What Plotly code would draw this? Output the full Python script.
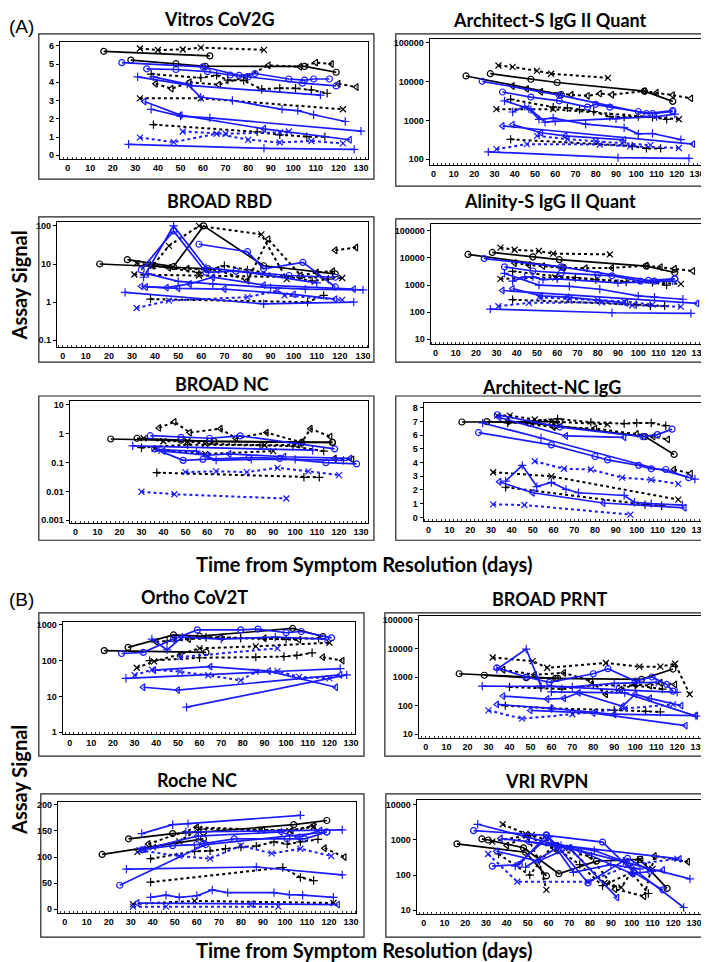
import plotly.graph_objects as go

W, H = 709, 962

# ---------------- data: (colour, symbol, days, values) ----------------
vitros = [
    ("k", "o", [16, 63], [5.70, 5.45]),
    ("k", "x", [32, 40, 51, 59, 87], [5.85, 5.77, 5.80, 5.90, 5.78]),
    ("k", "o", [28, 48, 61, 105, 119], [5.22, 5.02, 4.88, 4.87, 4.55]),
    ("k", "<", [39, 46, 54, 67, 79, 89, 103, 110, 117], [3.92, 3.65, 4.00, 3.87, 4.30, 4.93, 4.85, 5.08, 5.00]),
    ("k", "+", [37, 59, 66, 71, 78, 86, 94, 101, 108, 115], [4.45, 4.25, 4.38, 4.12, 4.10, 3.62, 3.68, 3.67, 3.58, 3.40]),
    ("k", "<", [120, 128], [3.92, 3.74]),
    ("k", "x", [32, 59, 122], [3.12, 3.12, 2.52]),
    ("k", "+", [38, 84, 94, 106, 114], [1.68, 1.28, 1.12, 1.02, 1.02]),
    ("b", "o", [24, 60, 76, 83, 98, 105, 109, 116], [5.08, 4.85, 4.38, 4.48, 4.18, 4.12, 4.18, 4.18]),
    ("b", "o", [35, 48, 62, 72, 80, 104, 119], [4.74, 4.70, 4.58, 4.40, 4.30, 3.95, 3.80]),
    ("b", "+", [31, 55, 112], [4.30, 3.82, 3.30]),
    ("b", "+", [38, 53, 59, 73, 95, 102, 109, 123], [4.30, 3.90, 3.18, 3.00, 2.52, 2.45, 2.22, 1.85]),
    ("b", "+", [37, 50, 63, 130], [2.52, 2.15, 2.05, 1.32]),
    ("b", "<", [34, 50, 87, 125], [2.95, 2.20, 1.45, 0.85]),
    ("b", "x", [51, 70, 94, 98], [1.30, 1.18, 1.25, 1.30]),
    ("b", "x", [32, 47, 66, 80, 94, 108, 122], [0.97, 0.72, 1.18, 0.85, 0.70, 0.78, 0.65]),
    ("b", "+", [27, 87, 127], [0.60, 0.38, 0.32]),
]

architect_s = [
    ("k", "o", [16, 63], [14000, 4600]),
    ("k", "o", [28, 48, 61, 104, 118], [16000, 11500, 9500, 5700, 3100]),
    ("k", "x", [32, 39, 51, 58, 86], [26000, 24000, 19000, 16000, 12500]),
    ("k", "<", [39, 46, 53, 68, 76, 82, 88, 104, 110, 118, 127], [7700, 6500, 5500, 4600, 4300, 4900, 4600, 5700, 5200, 4500, 3700]),
    ("k", "+", [38, 59, 66, 72, 79, 87, 94, 101, 108, 115], [3500, 2200, 2100, 1900, 1700, 1250, 1200, 1250, 1200, 1070]),
    ("k", "x", [31, 59, 121], [1950, 1950, 1070]),
    ("k", "+", [38, 98, 105, 112], [325, 220, 190, 190]),
    ("b", "o", [24, 62, 105, 118], [10200, 4500, 1500, 1800]),
    ("b", "o", [34, 48, 62, 76, 80, 87, 101, 108, 118], [5400, 4000, 3200, 2200, 2600, 2200, 1700, 1500, 1700]),
    ("b", "+", [35, 47, 52, 59, 75, 94, 101, 108, 122], [3200, 2000, 1070, 1150, 800, 650, 450, 460, 320]),
    ("b", "+", [39, 45, 48, 55, 60, 90, 110, 119], [1650, 2300, 1900, 900, 950, 1100, 1250, 1450]),
    ("b", "<", [34, 128], [720, 245]),
    ("b", "<", [39, 53, 65, 94], [780, 480, 400, 315]),
    ("b", "x", [31, 46, 82, 97, 121], [182, 245, 240, 215, 195]),
    ("b", "x", [51, 66, 80, 93, 107], [400, 330, 290, 260, 230]),
    ("b", "+", [27, 91, 126], [155, 110, 105]),
]

broad_rbd = [
    ("k", "o", [16, 63], [10, 7.5]),
    ("k", "o", [28, 48, 61, 87, 118], [13, 8.5, 100, 9, 5.5]),
    ("k", "x", [32, 39, 46, 59, 86, 97], [10.5, 9, 30, 100, 60, 4]),
    ("k", "<", [39, 46, 54, 67, 80, 89, 103, 110, 117], [9, 8, 7.5, 7, 3.7, 45, 5, 6, 6.5]),
    ("k", "<", [118, 127], [23, 27]),
    ("k", "+", [38, 59, 70, 80, 108, 115], [9.5, 6, 9, 7, 3.6, 4]),
    ("k", "x", [31, 59, 121], [5.3, 5, 4.3]),
    ("k", "+", [38, 106, 113], [1.2, 1.0, 1.5]),
    ("b", "o", [34, 48, 62, 75, 98, 118], [7, 74, 6, 6.5, 5, 4.5]),
    ("b", "o", [59, 80, 87, 104, 118], [33, 21, 7.5, 11, 2.5]),
    ("b", "+", [35, 48, 62, 80, 110], [4.5, 100, 8, 6, 3.2]),
    ("b", "<", [34, 45, 55, 65, 87, 126], [2.6, 2.4, 3, 4.5, 2.8, 2.2]),
    ("b", "+", [27, 87, 126], [1.8, 0.9, 1.0]),
    ("b", "x", [32, 46, 80, 93, 96, 121], [0.7, 1.1, 1.35, 2.0, 1.5, 1.15]),
    ("b", "+", [37, 50, 65, 90, 105, 130], [5.5, 3.5, 3, 2.4, 2.2, 2.1]),
    ("b", "<", [36, 50, 70, 100, 118], [2.5, 2.3, 2.2, 1.6, 1.2]),
]

alinity_s = [
    ("k", "o", [16, 63], [13500, 4500]),
    ("k", "o", [28, 48, 61, 104, 118], [16000, 11000, 8700, 5000, 2900]),
    ("k", "x", [32, 39, 51, 58, 86], [24000, 20000, 18000, 14500, 13500]),
    ("k", "<", [39, 46, 53, 63, 74, 87, 104, 111, 118, 127], [6500, 5500, 5000, 4300, 4200, 4300, 5200, 4600, 4000, 3300]),
    ("k", "+", [38, 60, 69, 79, 94, 107, 114], [3200, 2100, 1900, 1600, 1300, 1250, 1000]),
    ("k", "x", [32, 59, 121], [1700, 1900, 1100]),
    ("k", "+", [38, 99, 106, 113], [290, 190, 170, 170]),
    ("b", "o", [24, 62, 105, 118], [9500, 4700, 1500, 1700]),
    ("b", "o", [34, 48, 62, 80, 87, 101, 108, 118], [4700, 3300, 2800, 2450, 2200, 1400, 1400, 1700]),
    ("b", "+", [34, 51, 66, 81, 100, 108, 122], [2700, 1000, 900, 700, 400, 360, 300]),
    ("b", "+", [38, 44, 48, 53, 60, 90, 117], [1400, 2000, 2000, 1600, 1700, 1200, 1400]),
    ("b", "<", [33, 129], [630, 210]),
    ("b", "<", [38, 52, 65, 94], [740, 400, 360, 220]),
    ("b", "x", [31, 46, 82, 97, 121], [165, 220, 230, 180, 160]),
    ("b", "x", [51, 66, 80, 93, 107], [350, 310, 280, 250, 190]),
    ("b", "+", [27, 87, 126], [130, 95, 90]),
]

broad_nc = [
    ("k", "o", [16, 63, 117], [0.66, 0.55, 0.50]),
    ("k", "o", [28, 48, 61, 103, 117], [0.70, 0.60, 0.55, 0.50, 0.50]),
    ("k", "<", [38, 45, 52, 66, 73, 87, 103, 107, 116], [1.6, 2.6, 1.1, 1.5, 0.7, 1.1, 0.5, 1.5, 0.8]),
    ("k", "x", [31, 40, 51, 59, 86, 102], [0.70, 0.55, 0.55, 0.45, 0.40, 0.42]),
    ("k", "+", [30, 51, 84, 99, 113], [0.33, 0.42, 0.40, 0.37, 0.25]),
    ("k", "<", [118, 126], [0.14, 0.13]),
    ("k", "+", [37, 104, 111], [0.045, 0.031, 0.031]),
    ("k", "x", [36, 59, 90], [0.30, 0.20, 0.25]),
    ("b", "o", [34, 48, 61, 75, 118], [0.86, 0.75, 0.70, 0.85, 0.30]),
    ("b", "+", [26, 108], [0.38, 0.27]),
    ("b", "o", [36, 49, 58, 79, 93, 114, 128], [0.30, 0.12, 0.13, 0.15, 0.14, 0.10, 0.09]),
    ("b", "+", [38, 55, 64, 80, 100, 122], [0.28, 0.25, 0.12, 0.13, 0.13, 0.12]),
    ("b", "<", [40, 60, 70, 95, 125], [0.25, 0.18, 0.20, 0.16, 0.14]),
    ("b", "x", [50, 64, 78, 92, 106, 120], [0.047, 0.050, 0.047, 0.066, 0.050, 0.037]),
    ("b", "x", [30, 45, 96], [0.0098, 0.0080, 0.0057]),
]

architect_nc = [
    ("k", "o", [16, 63], [6.97, 7.0]),
    ("k", "o", [28, 48, 61, 104, 118], [7.0, 6.9, 6.7, 5.9, 4.6]),
    ("k", "x", [33, 39, 51, 59, 86], [7.44, 7.44, 7.15, 7.0, 6.8]),
    ("k", "+", [38, 62, 78, 94, 100, 107, 114], [6.9, 7.2, 6.95, 6.85, 6.9, 6.9, 6.7]),
    ("k", "<", [38, 60, 80, 100, 108, 115], [7.0, 6.6, 6.5, 6.1, 5.9, 5.7]),
    ("k", "<", [118, 126], [3.5, 3.2]),
    ("k", "x", [31, 59, 120], [3.3, 3.0, 1.3]),
    ("k", "+", [37, 104, 112], [2.2, 0.93, 0.85]),
    ("b", "o", [24, 59, 80, 86, 101, 107, 114, 125], [6.2, 5.3, 4.45, 4.2, 3.8, 3.55, 3.5, 2.9]),
    ("b", "o", [33, 63, 103, 110, 117], [7.5, 6.6, 5.9, 6.05, 6.45]),
    ("b", "+", [26, 54, 128], [6.9, 5.8, 2.8]),
    ("b", "<", [34, 66, 94], [7.3, 5.95, 5.85]),
    ("b", "x", [51, 65, 78, 93, 107, 120], [4.1, 3.55, 3.5, 2.9, 2.75, 2.45]),
    ("b", "+", [37, 45, 52, 59, 66, 72, 94, 99, 107, 122], [2.65, 3.8, 2.25, 2.55, 2.05, 1.8, 1.6, 1.1, 1.0, 0.9]),
    ("b", "<", [34, 50, 84, 123], [2.6, 1.8, 1.05, 0.7]),
    ("b", "x", [31, 46, 97], [0.95, 0.9, 0.2]),
]

ortho = [
    ("k", "o", [16, 63], [190, 170]),
    ("k", "o", [27, 48, 60, 103, 117], [235, 520, 480, 790, 470]),
    ("k", "x", [31, 39, 51, 60, 86, 120], [63, 95, 150, 220, 250, 316]),
    ("k", "<", [40, 55, 70, 90, 106], [330, 400, 450, 420, 380]),
    ("k", "<", [117, 126], [125, 100]),
    ("k", "+", [37, 60, 86, 99, 105, 112], [100, 120, 125, 130, 140, 165]),
    ("k", "+", [45, 63, 79, 100, 115], [350, 450, 420, 400, 420]),
    ("b", "o", [24, 34, 48, 59, 79, 87, 100, 107, 121], [158, 170, 400, 720, 720, 760, 600, 650, 430]),
    ("b", "+", [38, 45, 52, 70, 95, 118], [400, 200, 450, 400, 450, 400]),
    ("b", "x", [30, 38, 51, 64, 79, 86, 96, 106, 120], [39, 56, 49, 39, 28, 49, 51, 35, 32]),
    ("b", "x", [51, 96], [125, 220]),
    ("b", "<", [34, 50, 125], [18, 15, 40]),
    ("b", "+", [26, 125], [32, 60]),
    ("b", "<", [39, 65, 92, 123], [54, 68, 51, 18]),
    ("b", "+", [54, 128], [5, 40]),
]

broad_prnt = [
    ("k", "o", [16, 63], [1300, 900]),
    ("k", "o", [28, 48, 62, 103, 118], [1150, 950, 900, 830, 1900]),
    ("k", "x", [32, 51, 58, 86, 102, 112, 119, 126], [4800, 3600, 2100, 3100, 2300, 2300, 2900, 250]),
    ("k", "<", [37, 52, 66, 79, 86, 93, 100, 107, 112, 119], [1800, 1200, 1400, 720, 250, 360, 550, 500, 630, 550]),
    ("k", "+", [40, 55, 65, 80, 100, 113], [450, 420, 380, 520, 500, 380]),
    ("k", "+", [38, 60, 90, 105, 112], [100, 80, 70, 63, 60]),
    ("b", "+", [34, 48, 55, 70, 90, 110], [1870, 9500, 480, 450, 600, 650]),
    ("b", "o", [34, 48, 59, 80, 87, 100, 108, 115, 118], [2100, 1000, 650, 1300, 1950, 720, 1000, 550, 320]),
    ("b", "+", [27, 60, 91, 120], [480, 470, 360, 290]),
    ("b", "<", [37, 58, 66, 73, 94, 100, 107, 122], [215, 170, 180, 280, 95, 250, 180, 100]),
    ("b", "<", [34, 60, 90, 129], [110, 80, 50, 45]),
    ("b", "x", [30, 46, 70, 95, 118], [68, 35, 50, 80, 110]),
    ("b", "<", [50, 80, 124], [68, 55, 20]),
    ("b", "+", [60, 95, 129], [300, 280, 43]),
]

roche_nc = [
    ("k", "o", [17, 63], [105, 135]),
    ("k", "o", [29, 49, 63, 104, 119], [135, 145, 148, 162, 170]),
    ("k", "x", [33, 40, 52, 61, 89, 102, 113], [110, 119, 130, 154, 152, 150, 158]),
    ("k", "+", [39, 59, 66, 73, 80, 87, 95, 101, 107, 115], [97, 111, 112, 116, 119, 121, 129, 125, 129, 134]),
    ("k", "<", [118, 127], [117, 100]),
    ("k", "+", [39, 99, 107, 113], [52, 80, 61, 55]),
    ("k", "<", [38, 60, 90, 103, 113], [125, 157, 152, 151, 160]),
    ("k", "x", [31, 59, 122], [10, 16, 12]),
    ("b", "+", [35, 49, 56, 107], [145, 162, 164, 180]),
    ("b", "o", [25, 64, 119], [46, 124, 148]),
    ("b", "o", [35, 49, 60, 63, 77, 101, 109, 119], [114, 122, 124, 126, 135, 135, 135, 148]),
    ("b", "+", [28, 87, 126], [77, 81, 66]),
    ("b", "x", [34, 52, 66, 80, 94, 107, 121], [113, 102, 97, 122, 107, 116, 102]),
    ("b", "<", [36, 60, 98, 106, 116], [115, 140, 148, 138, 151]),
    ("b", "+", [55, 126], [148, 152]),
    ("b", "+", [39, 46, 52, 60, 67, 74, 95, 102, 108, 122], [23, 27, 23, 26, 37, 32, 32, 28, 27, 23]),
    ("b", "<", [33, 85, 124], [12, 10, 9]),
    ("b", "x", [31, 46, 97], [5, 5, 5]),
]

vri_rvpn = [
    ("k", "o", [16, 49, 59], [780, 450, 95]),
    ("k", "o", [28, 31, 48, 65, 83, 104, 117], [1070, 1000, 600, 110, 250, 280, 42]),
    ("k", "x", [38, 49, 55, 59], [2800, 1500, 300, 38]),
    ("k", "x", [33, 52, 70, 87, 95, 104, 110], [900, 1400, 600, 60, 45, 280, 150]),
    ("k", "<", [40, 50, 64, 80, 92, 106, 111, 127], [700, 1300, 500, 350, 40, 25, 350, 240]),
    ("k", "+", [36, 51, 62, 75, 86, 100, 108], [400, 100, 700, 200, 50, 120, 30]),
    ("b", "+", [26, 128], [2800, 78]),
    ("b", "o", [24, 59, 86, 101, 115], [1850, 1350, 870, 120, 38]),
    ("b", "<", [37, 123], [1100, 290]),
    ("b", "x", [31, 45, 79, 100, 122], [400, 65, 65, 200, 290]),
    ("b", "o", [33, 46, 59, 64, 79, 98, 109], [180, 200, 1400, 700, 60, 300, 130]),
    ("b", "+", [44, 60, 72, 90, 104], [180, 1200, 120, 200, 150]),
    ("b", "<", [35, 55, 70, 93], [480, 250, 600, 23]),
    ("b", "+", [49, 66, 82, 96, 125], [170, 700, 500, 250, 12]),
    ("b", "<", [50, 75, 100, 115], [900, 500, 110, 140]),
]

panel_titles = ["Vitros CoV2G", "Architect-S IgG II Quant", "BROAD RBD", "Alinity-S IgG II Quant",
                "BROAD NC", "Architect-NC IgG", "Ortho CoV2T", "BROAD PRNT", "Roche NC", "VRI RVPN"]
panel_data = [vitros, architect_s, broad_rbd, alinity_s, broad_nc, architect_nc,
              ortho, broad_prnt, roche_nc, vri_rvpn]
x_ticks = list(range(0, 131, 10))
y_ticks = [
    [0, 1, 2, 3, 4, 5, 6],
    [100, 1000, 10000, 100000],
    [0.1, 1, 10, 100],
    [10, 100, 1000, 10000, 100000],
    [0.001, 0.01, 0.1, 1, 10],
    [0, 1, 2, 3, 4, 5, 6, 7, 8],
    [1, 10, 100, 1000],
    [10, 100, 1000, 10000, 100000],
    [0, 50, 100, 150, 200],
    [10, 100, 1000, 10000],
]
y_log = [False, True, True, True, True, False, True, True, False, True]

# ---------------- geometry (pixels) ----------------
inner = [(52, 362, 32, 150), (424, 702, 29, 156), (49, 362, 213, 339), (425, 702, 215, 336),
         (62, 362, 393, 516), (418, 702, 395, 514), (55, 349, 615, 728), (413, 703, 609, 732),
         (50, 350, 796, 908), (411, 703, 794, 909)]
xmap = [(60, 355), (428, 693), (55, 357), (430, 695), (68, 355), (423, 695), (62, 345), (420, 694),
        (57, 345), (418, 690)]
ymap = [((0, 146), (6, 36)), ((2, 150), (5, 33)), ((-1, 332), (2, 217)), ((1, 331), (5, 222)),
        ((-3, 513), (1, 397)), ((0, 510), (8, 400)), ((0, 726), (3, 618)), ((1, 728), (5, 613)),
        ((0, 904), (200, 799)), ((1, 905), (4, 799))]
outer = [(31, 368, 24, 170), (390, 707, 24, 177), (31, 368, 208, 354), (390, 707, 210, 354),
         (31, 368, 388, 533), (390, 707, 388, 533), (31, 358, 606, 750), (379, 707, 606, 750),
         (33, 358, 788, 932), (380, 707, 788, 932)]
title_pos = [(213, 9), (545, 10), (213, 192), (545, 192), (215, 376), (547, 379),
             (188, 590), (545, 592), (190, 774), (542, 775)]

COLORS = {"k": "#000000", "b": "#1a1aff"}
SYMBOLS = {"o": "circle-open", "x": "x-thin-open", "+": "cross-thin-open", "<": "triangle-left-open"}


def dash_for(c, s):
    if c == "k":
        return "solid" if s == "o" else "dot"
    return "dot" if s == "x" else "solid"


def px(x):
    return x / W


def py(y):
    return 1 - y / H


fig = go.Figure()
layout = {}
shapes = []
annotations = []
tick_font = dict(family="Liberation Sans", size=9, color="black", weight="bold")

for i in range(10):
    n = i + 1
    xa = "xaxis" if n == 1 else f"xaxis{n}"
    ya = "yaxis" if n == 1 else f"yaxis{n}"
    xr = "x" if n == 1 else f"x{n}"
    yr = "y" if n == 1 else f"y{n}"
    l, r, t, b = inner[i]
    x0, x130 = xmap[i]
    k = (x130 - x0) / 130.0
    xrange = [(l - x0) / k, (r - x0) / k]
    (v1, p1), (v2, p2) = ymap[i]
    ky = (p1 - p2) / (v2 - v1)
    yrange = [v1 + (p1 - b) / ky, v1 + (p1 - t) / ky]

    for c, s, xs, ys in panel_data[i]:
        fig.add_trace(go.Scatter(
            x=xs, y=ys, xaxis=xr, yaxis=yr, mode="lines+markers", showlegend=False,
            line=dict(color=COLORS[c], width=1.7 if dash_for(c, s) == "solid" else 2.0,
                      dash=dash_for(c, s)),
            marker=dict(symbol=SYMBOLS[s], size=6, color=COLORS[c],
                        line=dict(color=COLORS[c], width=1.2)),
            hoverinfo="skip"))

    layout[xa] = dict(domain=[px(l), px(r)], range=xrange, anchor=yr,
                      tickvals=x_ticks, ticktext=[str(v) for v in x_ticks],
                      tickfont=tick_font, showline=True, mirror=True, linecolor="black",
                      linewidth=1, showgrid=False, zeroline=False, ticks="",
                      minor=dict(ticks="inside", ticklen=2, tick0=0, dtick=2,
                                 tickcolor="#333", showgrid=False))
    yv = y_ticks[i]
    ya_dict = dict(domain=[py(b), py(t)], anchor=xr, tickvals=yv,
                   ticktext=[("%g" % v) if v < 1 else str(int(v)) for v in yv],
                   tickfont=tick_font, showline=True, mirror=True, linecolor="black",
                   linewidth=1, showgrid=False, zeroline=False, ticks="outside",
                   ticklen=3, tickcolor="black")
    if y_log[i]:
        ya_dict["type"] = "log"
    ya_dict["range"] = yrange
    layout[ya] = ya_dict

    ol, orr, ot, ob = outer[i]
    shapes.append(dict(type="rect", xref="paper", yref="paper", x0=px(ol), x1=px(orr),
                       y0=py(ob), y1=py(ot), line=dict(color="#222", width=1.2)))
    tx, ty = title_pos[i]
    annotations.append(dict(text="<b>%s</b>" % panel_titles[i], x=px(tx), y=py(ty),
                            xref="paper", yref="paper", showarrow=False,
                            font=dict(family="Lato", size=18, color="black"),
                            xanchor="center", yanchor="middle"))

for txt, x, y in [("(A)", 14, 17), ("(B)", 14, 593)]:
    annotations.append(dict(text=txt, x=px(x), y=py(y), xref="paper", yref="paper",
                            showarrow=False, xanchor="center", yanchor="middle",
                            font=dict(family="Liberation Sans", size=19, color="black")))
for y in [277, 774]:
    annotations.append(dict(text="<b>Assay Signal</b>", x=px(11), y=py(y), xref="paper",
                            yref="paper", showarrow=False, textangle=-90,
                            xanchor="center", yanchor="middle",
                            font=dict(family="Lato", size=20, color="black")))
for y in [557, 945]:
    annotations.append(dict(text="<b>Time from Symptom Resolution (days)</b>", x=px(358),
                            y=py(y), xref="paper", yref="paper", showarrow=False,
                            xanchor="center", yanchor="middle",
                            font=dict(family="Lato", size=20, color="black")))

fig.update_layout(width=W, height=H, margin=dict(l=0, r=0, t=0, b=0),
                  paper_bgcolor="white", plot_bgcolor="white",
                  shapes=shapes, annotations=annotations, **layout)
fig.write_html("out.html")
